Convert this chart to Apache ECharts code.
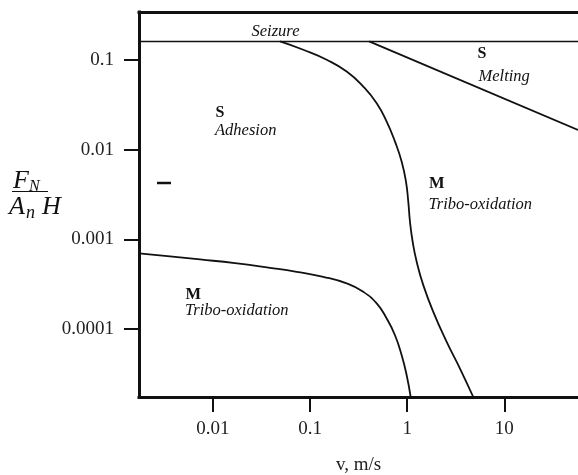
<!DOCTYPE html>
<html>
<head>
<meta charset="utf-8">
<script src="https://cdn.jsdelivr.net/npm/echarts@6/dist/echarts.min.js"></script>
<style>html,body{margin:0;padding:0;background:#fff}#c{width:578px;height:475px}</style>
</head>
<body>
<div id="c"></div>
<script>
// Axis extents (log scales)
var xRange = [0.001738, 57.28];
var yRange = [1.743e-5, 0.343];
var xTicks = [0.01, 0.1, 1, 10];
var yTicks = [0.0001, 0.001, 0.01, 0.1];

// Boundary lines [v, FN/(An H)]
var seizureLine = [[0.001738, 0.161], [57.28, 0.161]];
var meltingLine = [[0.406, 0.161], [57.28, 0.0166]];
var upperCurveX = [0.0491, 0.08524, 0.1484, 0.2384, 0.3533, 0.4855, 0.6152, 0.7491, 0.8779, 0.9720, 1.0264, 1.0686, 1.1390, 1.2525, 1.4648, 1.8560, 2.5498, 3.4943, 4.788];
var upperCurveY = [0.1610, 0.1300, 0.1006, 0.0744, 0.0506, 0.03302, 0.02056, 0.01230, 0.007350, 0.004395, 0.002628, 0.001571, 0.0009391, 0.0005614, 0.0003083, 0.0001551, 0.00007171, 0.00003618, 0.00001743];
var lowerCurveX = [0.001738, 0.003623, 0.007373, 0.01689, 0.03873, 0.07290, 0.1369, 0.2384, 0.3533, 0.4855, 0.6152, 0.7491, 0.8779, 0.9882, 1.0864];
var lowerCurveY = [0.0006967, 0.0006452, 0.0005970, 0.0005429, 0.0004811, 0.0004342, 0.0003817, 0.0003221, 0.0002596, 0.0001926, 0.0001310, 0.00008518, 0.00005094, 0.00003046, 0.00001743];

function zip(a, b) { return a.map(function (v, i) { return [v, b[i]]; }); }

var serif = '"Liberation Serif", "Times New Roman", serif';
var chart = echarts.init(document.getElementById('c'), null, {renderer: 'canvas'});

function txt(x, y, text, font) {
  return {type: 'text', x: x, y: y, silent: true,
    style: {text: text, font: font, fill: '#111', align: 'left', verticalAlign: 'middle',
            textAlign: 'left', textVerticalAlign: 'middle'}};
}

var lineBase = {type: 'line', symbol: 'none', xAxisIndex: 0, yAxisIndex: 0, silent: true, animation: false};

chart.setOption({
  animation: false,
  backgroundColor: '#fff',
  grid: {left: 139, right: 0, top: 12, bottom: 78, containLabel: false, outerBoundsMode: 'none'},
  xAxis: [{
    type: 'log', logBase: 10, min: xRange[0], max: xRange[1], position: 'bottom',
    axisLine: {show: true, lineStyle: {color: '#111', width: 3, cap: 'square'}},
    axisTick: {show: true, customValues: xTicks, length: 15, lineStyle: {color: '#111', width: 2}},
    axisLabel: {show: true, customValues: xTicks, margin: 23, color: '#222', fontFamily: serif, fontSize: 19,
      formatter: function (v) { return String(v); }},
    splitLine: {show: false}, minorTick: {show: false},
    name: 'v, m/s', nameLocation: 'middle', nameGap: 59,
    nameTextStyle: {fontFamily: serif, fontSize: 19, color: '#222'}
  }, {
    type: 'log', logBase: 10, min: xRange[0], max: xRange[1], position: 'top',
    axisLine: {show: true, lineStyle: {color: '#111', width: 3, cap: 'square'}},
    axisTick: {show: false}, axisLabel: {show: false}, splitLine: {show: false}
  }],
  yAxis: [{
    type: 'log', logBase: 10, min: yRange[0], max: yRange[1], position: 'left',
    axisLine: {show: true, lineStyle: {color: '#111', width: 3, cap: 'square'}},
    axisTick: {show: true, customValues: yTicks, length: 15, lineStyle: {color: '#111', width: 2}},
    axisLabel: {show: true, customValues: yTicks, margin: 25, color: '#222', fontFamily: serif, fontSize: 19,
      formatter: function (v) { return String(v); }},
    splitLine: {show: false}, minorTick: {show: false}
  }],
  series: [
    Object.assign({}, lineBase, {data: seizureLine, lineStyle: {color: '#111', width: 1.6}}),
    Object.assign({}, lineBase, {data: meltingLine, lineStyle: {color: '#111', width: 1.8}}),
    Object.assign({}, lineBase, {data: zip(upperCurveX, upperCurveY), smooth: 0.5, lineStyle: {color: '#111', width: 1.8}}),
    Object.assign({}, lineBase, {data: zip(lowerCurveX, lowerCurveY), smooth: 0.5, lineStyle: {color: '#111', width: 1.8}})
  ],
  graphic: [
    txt(251.5, 32, 'Seizure', 'italic 16.5px ' + serif),
    txt(215.5, 113, 'S', 'bold 16px ' + serif),
    txt(215, 131, 'Adhesion', 'italic 16.5px ' + serif),
    txt(185.5, 294.5, 'M', 'bold 16.5px ' + serif),
    txt(185, 310.5, 'Tribo-oxidation', 'italic 16.5px ' + serif),
    txt(429, 184, 'M', 'bold 16.5px ' + serif),
    txt(428.5, 204.5, 'Tribo-oxidation', 'italic 16.5px ' + serif),
    txt(477.5, 54, 'S', 'bold 16px ' + serif),
    txt(478.5, 77, 'Melting', 'italic 16.5px ' + serif),
    txt(13, 181, 'F', 'italic 26px ' + serif),
    txt(29, 187, 'N', 'italic 16px ' + serif),
    txt(9, 207, 'A', 'italic 26px ' + serif),
    txt(26, 213, 'n', 'italic 18px ' + serif),
    txt(42, 207, 'H', 'italic 26px ' + serif),
    {type: 'line', silent: true, shape: {x1: 12, y1: 191.5, x2: 48, y2: 191.5}, style: {stroke: '#111', lineWidth: 1.2}},
    {type: 'line', silent: true, shape: {x1: 157, y1: 183, x2: 171, y2: 183}, style: {stroke: '#111', lineWidth: 2.5}}
  ]
});
</script>
</body>
</html>
